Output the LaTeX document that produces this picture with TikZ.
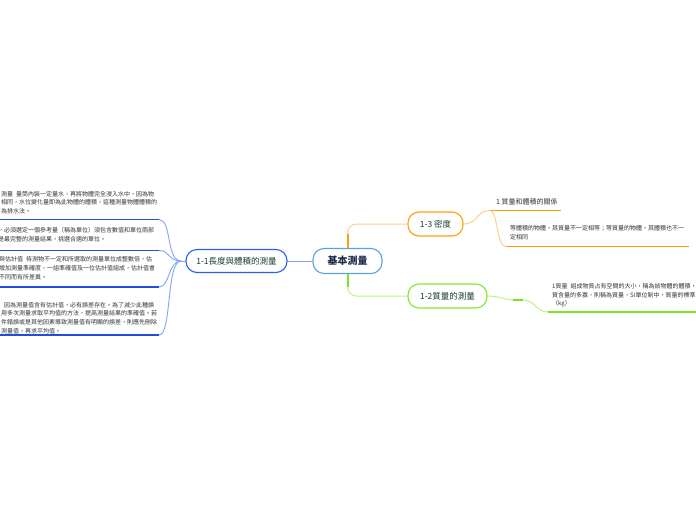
\documentclass[tikz,border=0pt]{standalone}
\usepackage{fontspec}
\newfontfamily\cjk{Noto Sans CJK TC}
\definecolor{cborder}{HTML}{5BA3DC}
\definecolor{cnavy}{HTML}{1C2A4A}
\definecolor{tgreen}{HTML}{173F30}
\definecolor{bborder}{HTML}{2E5EE8}
\definecolor{bline}{HTML}{1F50DC}
\definecolor{blight}{HTML}{86A3F2}
\definecolor{oborder}{HTML}{FF9D0A}
\definecolor{olight}{HTML}{FFD08C}
\definecolor{gborder}{HTML}{86E62C}
\definecolor{glight}{HTML}{BDF285}
\definecolor{gline}{HTML}{7FE51E}
\definecolor{ntext}{HTML}{333333}
\tikzset{
  topic/.style={rounded corners=11pt, line width=1.1pt, fill=white, inner sep=0pt,
    font=\cjk\fontsize{8.5}{10}\selectfont, text=tgreen},
  note/.style={inner sep=0pt, align=left, text=ntext,
    font=\cjk\fontsize{6}{8.7}\selectfont},
  uline/.style={line width=1.8pt},
}
\begin{document}
\begin{tikzpicture}[x=1pt,y=-1pt]
\useasboundingbox (0,0) rectangle (696,520);
\clip (0,0) rectangle (696,520);

% main topics
\node[topic, draw=cborder, minimum width=69pt, minimum height=25pt,
  font=\cjk\bfseries\fontsize{10}{12}\selectfont, text=cnavy] (c) at (347.5,261) {基本測量};
\node[topic, draw=bborder, minimum width=101pt, minimum height=23pt] (a) at (236.5,261) {1-1長度與體積的測量};
\node[topic, draw=oborder, minimum width=55pt, minimum height=24pt] (b) at (435.5,224) {1-3 密度};
\node[topic, draw=gborder, minimum width=79pt, minimum height=24pt] (d) at (447.5,296) {1-2質量的測量};

% central connectors
\draw[blight, line width=0.9pt] (c.west) -- (a.east);
\coordinate (o1) at (347.5,234);
\draw[oborder, line width=2pt] (c.north) -- (o1);
\draw[olight, line width=1pt, rounded corners=9pt] (o1) |- (b.west);
\coordinate (g1) at (347.5,287);
\draw[gline, line width=2pt] (c.south) -- (g1);
\draw[glight, line width=1pt, rounded corners=9pt] (g1) |- (d.west);

% left branch (1-1)
\coordinate (ja) at (181,261);
\draw[blight, line width=0.9pt] (ja) -- (a.west);
\foreach \n/\yy/\ca/\cb in {1/219.5/172/166, 2/250.5/170/168, 3/287/170/168, 4/335/172/166}{
  \coordinate (us\n) at (0,\yy);
  \coordinate (ue\n) at (159,\yy);
  \draw[bline, uline] (us\n) -- (ue\n);
  \draw[blight, line width=0.9pt] (ue\n) .. controls (\ca,\yy) and (\cb,261) .. (ja);
}
\node[note, anchor=north west] (t1) at (1,191) {測量\hspace{3pt}量筒內裝一定量水，再將物體完全浸入水中，因為物\\相同，水位變化量即為此物體的體積，這種測量物體體積的\\為排水法。};
\node[note, anchor=north west] (t2) at (-2,227) {，必須選定一個參考量（稱為單位）須包含數值和單位兩部\\是最完整的測量結果，挑選合適的單位。};
\node[note, anchor=north west] (t3) at (-1,256.5) {與估計值\hspace{3pt}待測物不一定和所選取的測量單位成整數倍，估\\增加測量準確度，一組準確值及一位估計值組成，估計值會\\不同而有所差異。};
\node[note, anchor=north west] (t4) at (1,302) {\hspace{3pt}因為測量值含有估計值，必有誤差存在。為了減少此種誤\\用多次測量求取平均值的方法，提高測量結果的準確值。若\\件錯誤或是其他因素導致測量值有明顯的誤差，則應先刪除\\測量值，再求平均值。};

% right branch (1-3)
\coordinate (r1s) at (490,210.5);
\coordinate (r1e) at (561,210.5);
\draw[olight, line width=1pt] (b.east) .. controls (478,224) and (476,210.5) .. (r1s);
\draw[oborder, uline] (r1s) -- (r1e);
\coordinate (r2s) at (506,246.5);
\coordinate (r2e) at (689,246.5);
\draw[olight, line width=1pt] (r1s) .. controls (498,210.5) and (496,246.5) .. (r2s);
\draw[oborder, uline] (r2s) -- (r2e);
\node[inner sep=0pt, anchor=west, text=ntext, font=\cjk\fontsize{7}{9}\selectfont] (s1) at (496,202) {1 質量和體積的關係};
\node[note, anchor=north west, font=\cjk\fontsize{6}{9}\selectfont] (s2) at (510,225.5) {等體積的物體，其質量不一定相等；等質量的物體，其體積也不一\\定相同};

% right branch (1-2)
\coordinate (q1) at (513,300);
\coordinate (q2) at (523,300);
\coordinate (q3s) at (548,312);
\coordinate (q3e) at (696,312);
\draw[glight, line width=1pt] (d.east) .. controls (500,296) and (505,300) .. (q1);
\draw[gline, line width=1.6pt] (q1) -- (q2);
\draw[glight, line width=1pt] (q2) .. controls (535,300) and (536,312) .. (q3s);
\draw[gline, uline] (q3s) -- (q3e);
\node[note, anchor=north west, font=\cjk\fontsize{6}{8.5}\selectfont] (s3) at (552,283.5) {1質量\hspace{3pt}組成物質占有空間的大小，稱為該物體的體積，而\\質含量的多寡，則稱為質量，SI單位制中，質量的標準\\（kg）};
\end{tikzpicture}
\end{document}
